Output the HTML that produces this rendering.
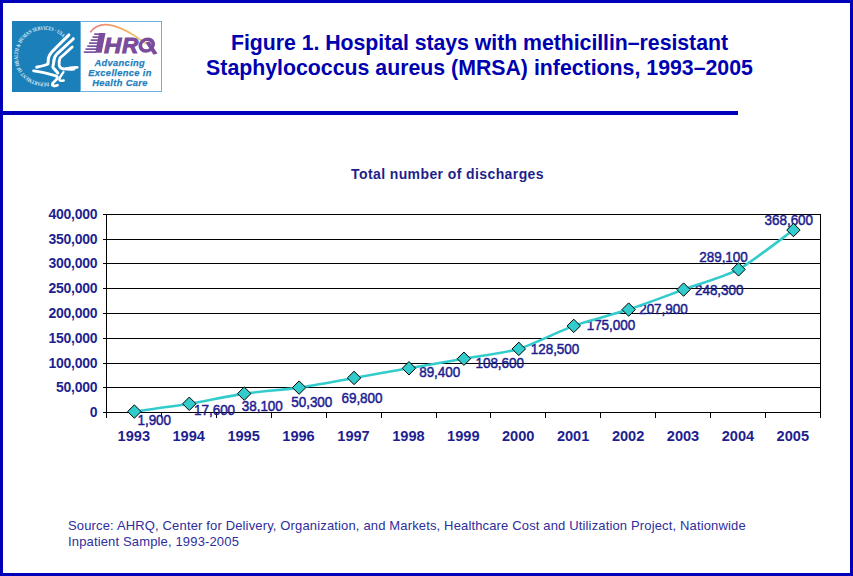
<!DOCTYPE html>
<html><head><meta charset="utf-8">
<style>
html,body{margin:0;padding:0;}
body{width:853px;height:576px;position:relative;overflow:hidden;background:#fff;font-family:"Liberation Sans",sans-serif;}
.frame{position:absolute;left:0;top:0;width:847px;height:570px;border:3px solid #0000bb;}
.hr{position:absolute;left:0;top:111px;width:738px;height:4px;background:#0000bb;}
.title{position:absolute;left:179.5px;top:31px;width:600px;text-align:center;color:#0000b0;font-weight:bold;font-size:21.3px;line-height:24.5px;letter-spacing:-0.05px;}
.sub{position:absolute;left:247.5px;top:164.7px;width:400px;text-align:center;color:#1f1f8a;font-weight:bold;font-size:14px;line-height:18px;letter-spacing:0.4px;}
.src{position:absolute;left:68px;top:517.5px;color:#2e2e9c;font-size:13px;line-height:16px;letter-spacing:0.15px;white-space:nowrap;}
svg{position:absolute;left:0;top:0;}
.yl{font-weight:bold;font-size:14px;letter-spacing:-0.25px;fill:#1e1e90;}
.xl{font-weight:bold;font-size:14.6px;fill:#1e1e90;}
.dl{font-size:13.5px;letter-spacing:-0.05px;fill:#1e1e90;}
</style></head>
<body>
<div class="frame"></div>
<div class="hr"></div>
<svg style="position:absolute;left:0;top:0" width="853" height="120">
<defs>
<path id="ring" d="M48.58,82.35 A26.5,26.5 0 1 1 63.68,38.13"/>
<linearGradient id="arcg" gradientUnits="userSpaceOnUse" x1="90" y1="0" x2="146" y2="0">
<stop offset="0" stop-color="#ee7a86"/><stop offset="0.5" stop-color="#f0a860"/><stop offset="1" stop-color="#f2cf72"/>
</linearGradient>
</defs>
<rect x="12" y="21" width="68" height="71" fill="#1b7fb9"/>
<rect x="80.5" y="21.5" width="81" height="70" fill="#fff" stroke="#6eb0dc" stroke-width="1"/>
<text font-family="Liberation Serif" font-size="5.4" font-weight="bold" fill="#e6f0f8"><textPath href="#ring" textLength="108" lengthAdjust="spacingAndGlyphs">DEPARTMENT OF HEALTH &amp; HUMAN SERVICES · USA</textPath></text>
<g fill="none" stroke="#fff" stroke-linecap="round" stroke-linejoin="round">
<path d="M68.9,34.9 C64,40 56,47.5 52.5,51.3 C49.5,54.5 48.3,57 48.3,60 L47.9,64 C45,65.5 40,66.5 36.7,67.2" stroke-width="3"/>
<path d="M73.3,38.7 C69,43 61,50 56.6,54.3 C54.5,56.5 53.7,59 53.7,62.5 C53.5,65 52.5,66.5 53,67.5 C54,69 56,70.5 57.8,73" stroke-width="3"/>
<path d="M72.2,47 C69,50 63,55.5 60.1,57.8 C59,60 59,63 59.2,65 C59.5,67 60.5,68.5 63.5,69 C67,68.5 72,67.5 77.2,67.4" stroke-width="2.8"/>
<path d="M33.6,70.8 C40,71.5 50,74 56,75.8 C58.5,77 57,79.5 54.5,81.5 C52,83.5 51.5,85.5 54,86 C55.5,86 56.5,85.7 57.5,85.3" stroke-width="2.8"/>
<path d="M63.5,72 C62,74.5 59.5,77 59.3,79.5 C59.5,81 61.5,81 63.7,80.5" stroke-width="2.4"/>
<path d="M66,69.5 C70,69.8 73,70.3 74.5,69.5" stroke-width="1.8"/>
</g>
<path d="M90.3,32.2 Q105,12.6 146.3,44" fill="none" stroke="url(#arcg)" stroke-width="1.8"/>
<g fill="#7a4c9b">
<polygon points="99,33 105.5,33 101.6,52.8 95.3,52.8"/>
<rect x="94.20" y="33.30" width="5.24" height="1.65"/>
<rect x="92.46" y="36.30" width="6.42" height="1.65"/>
<rect x="90.73" y="39.30" width="7.60" height="1.65"/>
<rect x="88.99" y="42.30" width="8.77" height="1.65"/>
<rect x="87.25" y="45.30" width="9.95" height="1.65"/>
<rect x="85.52" y="48.30" width="11.13" height="1.65"/>
<rect x="83.78" y="51.30" width="12.30" height="1.65"/>
<text x="104" y="52.7" font-family="Liberation Sans" font-weight="bold" font-style="italic" font-size="21.5" stroke="#7a4c9b" stroke-width="0.9" transform="translate(104,0) scale(1.12,1) translate(-104,0)">H</text>
<text x="122" y="52.7" font-family="Liberation Sans" font-weight="bold" font-style="italic" font-size="21.5" stroke="#7a4c9b" stroke-width="0.9" transform="translate(122,0) scale(1.05,1) translate(-122,0)">R</text>
<ellipse cx="146.8" cy="45.1" rx="6.4" ry="5.9" fill="none" stroke="#7a4c9b" stroke-width="3.6" transform="skewX(-8) translate(6.3,0)"/>
<polygon points="145.5,42.5 149.5,41.5 157.5,53.5 153.5,54.8" fill="#7a4c9b"/>
<polygon points="146,40.5 150.5,40.5 149.5,42 145.5,43.5" fill="#fff" opacity="0"/>
</g>
<g fill="#1f7fc0" stroke="#1f7fc0" stroke-width="0.25" font-family="Liberation Sans" font-weight="bold" font-style="italic" font-size="9.3" text-anchor="middle">
<text x="119.8" y="66" letter-spacing="0.35">Advancing</text>
<text x="120" y="76.1" letter-spacing="0.35">Excellence in</text>
<text x="120" y="86.2" letter-spacing="0.35">Health Care</text>
</g>
</svg>
<div class="title">Figure 1. Hospital stays with methicillin–resistant<br><span style="letter-spacing:0px">Staphylococcus aureus (MRSA) infections, 1993–2005</span></div>
<div class="sub">Total number of discharges</div>
<div class="src">Source: AHRQ, Center for Delivery, Organization, and Markets, Healthcare Cost and Utilization Project, Nationwide<br>Inpatient Sample, 1993-2005</div>
<svg id="chart" width="853" height="576"><rect x="103" y="214" width="718" height="1" fill="#000"/>
<rect x="103" y="239" width="718" height="1" fill="#000"/>
<rect x="103" y="263" width="718" height="1" fill="#000"/>
<rect x="103" y="288" width="718" height="1" fill="#000"/>
<rect x="103" y="313" width="718" height="1" fill="#000"/>
<rect x="103" y="338" width="718" height="1" fill="#000"/>
<rect x="103" y="363" width="718" height="1" fill="#000"/>
<rect x="103" y="387" width="718" height="1" fill="#000"/>
<rect x="103" y="412" width="718" height="1" fill="#000"/>
<rect x="106" y="214" width="1" height="204" fill="#000"/>
<rect x="820" y="214" width="1" height="199" fill="#000"/>
<rect x="106" y="412" width="1" height="6" fill="#000"/>
<rect x="161" y="412" width="1" height="6" fill="#000"/>
<rect x="216" y="412" width="1" height="6" fill="#000"/>
<rect x="271" y="412" width="1" height="6" fill="#000"/>
<rect x="326" y="412" width="1" height="6" fill="#000"/>
<rect x="381" y="412" width="1" height="6" fill="#000"/>
<rect x="436" y="412" width="1" height="6" fill="#000"/>
<rect x="490" y="412" width="1" height="6" fill="#000"/>
<rect x="545" y="412" width="1" height="6" fill="#000"/>
<rect x="600" y="412" width="1" height="6" fill="#000"/>
<rect x="655" y="412" width="1" height="6" fill="#000"/>
<rect x="710" y="412" width="1" height="6" fill="#000"/>
<rect x="765" y="412" width="1" height="6" fill="#000"/>
<rect x="820" y="412" width="1" height="6" fill="#000"/>
<text class="yl" x="97.3" y="417.0" text-anchor="end" transform="translate(0,417.0) scale(1,1.05) translate(0,-417.0)">0</text>
<text class="yl" x="97.3" y="392.0" text-anchor="end" transform="translate(0,392.0) scale(1,1.05) translate(0,-392.0)">50,000</text>
<text class="yl" x="97.3" y="368.0" text-anchor="end" transform="translate(0,368.0) scale(1,1.05) translate(0,-368.0)">100,000</text>
<text class="yl" x="97.3" y="343.0" text-anchor="end" transform="translate(0,343.0) scale(1,1.05) translate(0,-343.0)">150,000</text>
<text class="yl" x="97.3" y="318.0" text-anchor="end" transform="translate(0,318.0) scale(1,1.05) translate(0,-318.0)">200,000</text>
<text class="yl" x="97.3" y="293.0" text-anchor="end" transform="translate(0,293.0) scale(1,1.05) translate(0,-293.0)">250,000</text>
<text class="yl" x="97.3" y="268.0" text-anchor="end" transform="translate(0,268.0) scale(1,1.05) translate(0,-268.0)">300,000</text>
<text class="yl" x="97.3" y="244.0" text-anchor="end" transform="translate(0,244.0) scale(1,1.05) translate(0,-244.0)">350,000</text>
<text class="yl" x="97.3" y="219.0" text-anchor="end" transform="translate(0,219.0) scale(1,1.05) translate(0,-219.0)">400,000</text>
<text class="xl" x="133.8" y="440.8" text-anchor="middle" transform="translate(0,440.8) scale(1,1.04) translate(0,-440.8)">1993</text>
<text class="xl" x="188.7" y="440.8" text-anchor="middle" transform="translate(0,440.8) scale(1,1.04) translate(0,-440.8)">1994</text>
<text class="xl" x="243.6" y="440.8" text-anchor="middle" transform="translate(0,440.8) scale(1,1.04) translate(0,-440.8)">1995</text>
<text class="xl" x="298.5" y="440.8" text-anchor="middle" transform="translate(0,440.8) scale(1,1.04) translate(0,-440.8)">1996</text>
<text class="xl" x="353.5" y="440.8" text-anchor="middle" transform="translate(0,440.8) scale(1,1.04) translate(0,-440.8)">1997</text>
<text class="xl" x="408.4" y="440.8" text-anchor="middle" transform="translate(0,440.8) scale(1,1.04) translate(0,-440.8)">1998</text>
<text class="xl" x="463.3" y="440.8" text-anchor="middle" transform="translate(0,440.8) scale(1,1.04) translate(0,-440.8)">1999</text>
<text class="xl" x="518.2" y="440.8" text-anchor="middle" transform="translate(0,440.8) scale(1,1.04) translate(0,-440.8)">2000</text>
<text class="xl" x="573.1" y="440.8" text-anchor="middle" transform="translate(0,440.8) scale(1,1.04) translate(0,-440.8)">2001</text>
<text class="xl" x="628.1" y="440.8" text-anchor="middle" transform="translate(0,440.8) scale(1,1.04) translate(0,-440.8)">2002</text>
<text class="xl" x="683.0" y="440.8" text-anchor="middle" transform="translate(0,440.8) scale(1,1.04) translate(0,-440.8)">2003</text>
<text class="xl" x="737.9" y="440.8" text-anchor="middle" transform="translate(0,440.8) scale(1,1.04) translate(0,-440.8)">2004</text>
<text class="xl" x="792.8" y="440.8" text-anchor="middle" transform="translate(0,440.8) scale(1,1.04) translate(0,-440.8)">2005</text>
<text class="dl" x="137.5" y="425.4" stroke="#1e1e90" stroke-width="0.45" transform="translate(0,425.4) scale(1,1.15) translate(0,-425.4)">1,900</text>
<text class="dl" x="194.1" y="415.3" stroke="#1e1e90" stroke-width="0.45" transform="translate(0,415.3) scale(1,1.15) translate(0,-415.3)">17,600</text>
<text class="dl" x="241.8" y="411.5" stroke="#1e1e90" stroke-width="0.45" transform="translate(0,411.5) scale(1,1.15) translate(0,-411.5)">38,100</text>
<text class="dl" x="291.3" y="407.3" stroke="#1e1e90" stroke-width="0.45" transform="translate(0,407.3) scale(1,1.15) translate(0,-407.3)">50,300</text>
<text class="dl" x="341.5" y="403.5" stroke="#1e1e90" stroke-width="0.45" transform="translate(0,403.5) scale(1,1.15) translate(0,-403.5)">69,800</text>
<text class="dl" x="419.2" y="377.1" stroke="#1e1e90" stroke-width="0.45" transform="translate(0,377.1) scale(1,1.15) translate(0,-377.1)">89,400</text>
<text class="dl" x="475.5" y="367.8" stroke="#1e1e90" stroke-width="0.45" transform="translate(0,367.8) scale(1,1.15) translate(0,-367.8)">108,600</text>
<text class="dl" x="530.8" y="353.7" stroke="#1e1e90" stroke-width="0.45" transform="translate(0,353.7) scale(1,1.15) translate(0,-353.7)">128,500</text>
<text class="dl" x="586.7" y="329.8" stroke="#1e1e90" stroke-width="0.45" transform="translate(0,329.8) scale(1,1.15) translate(0,-329.8)">175,000</text>
<text class="dl" x="639.2" y="314.0" stroke="#1e1e90" stroke-width="0.45" transform="translate(0,314.0) scale(1,1.15) translate(0,-314.0)">207,900</text>
<text class="dl" x="695.0" y="294.8" stroke="#1e1e90" stroke-width="0.45" transform="translate(0,294.8) scale(1,1.15) translate(0,-294.8)">248,300</text>
<text class="dl" x="699.3" y="261.9" stroke="#1e1e90" stroke-width="0.45" transform="translate(0,261.9) scale(1,1.15) translate(0,-261.9)">289,100</text>
<text class="dl" x="764.6" y="225.3" stroke="#1e1e90" stroke-width="0.45" transform="translate(0,225.3) scale(1,1.15) translate(0,-225.3)">368,600</text>
<path d="M134.36,411.56 C140.46,410.70 177.08,405.78 189.28,403.79 C201.49,401.80 232.00,395.44 244.21,393.64 C256.41,391.84 286.93,389.34 299.13,387.60 C311.34,385.86 341.85,380.10 354.05,377.95 C366.26,375.80 396.77,370.38 408.98,368.25 C421.18,366.11 451.69,360.89 463.90,358.74 C476.11,356.59 506.62,352.54 518.82,348.89 C531.03,345.24 561.54,330.24 573.75,325.88 C585.95,321.51 616.46,313.62 628.67,309.59 C640.87,305.56 671.39,294.06 683.59,289.59 C695.80,285.13 726.31,276.01 738.52,269.40 C750.72,262.78 787.34,234.42 793.44,230.04" fill="none" stroke="#33cccc" stroke-width="2.6"/>
<path d="M134.36,404.86 L141.06,411.56 L134.36,418.26 L127.66,411.56 Z" fill="#33cccc" stroke="#000" stroke-width="1"/>
<path d="M189.28,397.09 L195.98,403.79 L189.28,410.49 L182.58,403.79 Z" fill="#33cccc" stroke="#000" stroke-width="1"/>
<path d="M244.21,386.94 L250.91,393.64 L244.21,400.34 L237.51,393.64 Z" fill="#33cccc" stroke="#000" stroke-width="1"/>
<path d="M299.13,380.90 L305.83,387.60 L299.13,394.30 L292.43,387.60 Z" fill="#33cccc" stroke="#000" stroke-width="1"/>
<path d="M354.05,371.25 L360.75,377.95 L354.05,384.65 L347.35,377.95 Z" fill="#33cccc" stroke="#000" stroke-width="1"/>
<path d="M408.98,361.55 L415.68,368.25 L408.98,374.95 L402.28,368.25 Z" fill="#33cccc" stroke="#000" stroke-width="1"/>
<path d="M463.90,352.04 L470.60,358.74 L463.90,365.44 L457.20,358.74 Z" fill="#33cccc" stroke="#000" stroke-width="1"/>
<path d="M518.82,342.19 L525.52,348.89 L518.82,355.59 L512.12,348.89 Z" fill="#33cccc" stroke="#000" stroke-width="1"/>
<path d="M573.75,319.18 L580.45,325.88 L573.75,332.57 L567.05,325.88 Z" fill="#33cccc" stroke="#000" stroke-width="1"/>
<path d="M628.67,302.89 L635.37,309.59 L628.67,316.29 L621.97,309.59 Z" fill="#33cccc" stroke="#000" stroke-width="1"/>
<path d="M683.59,282.89 L690.29,289.59 L683.59,296.29 L676.89,289.59 Z" fill="#33cccc" stroke="#000" stroke-width="1"/>
<path d="M738.52,262.70 L745.22,269.40 L738.52,276.10 L731.82,269.40 Z" fill="#33cccc" stroke="#000" stroke-width="1"/>
<path d="M793.44,223.34 L800.14,230.04 L793.44,236.74 L786.74,230.04 Z" fill="#33cccc" stroke="#000" stroke-width="1"/></svg>
</body></html>
